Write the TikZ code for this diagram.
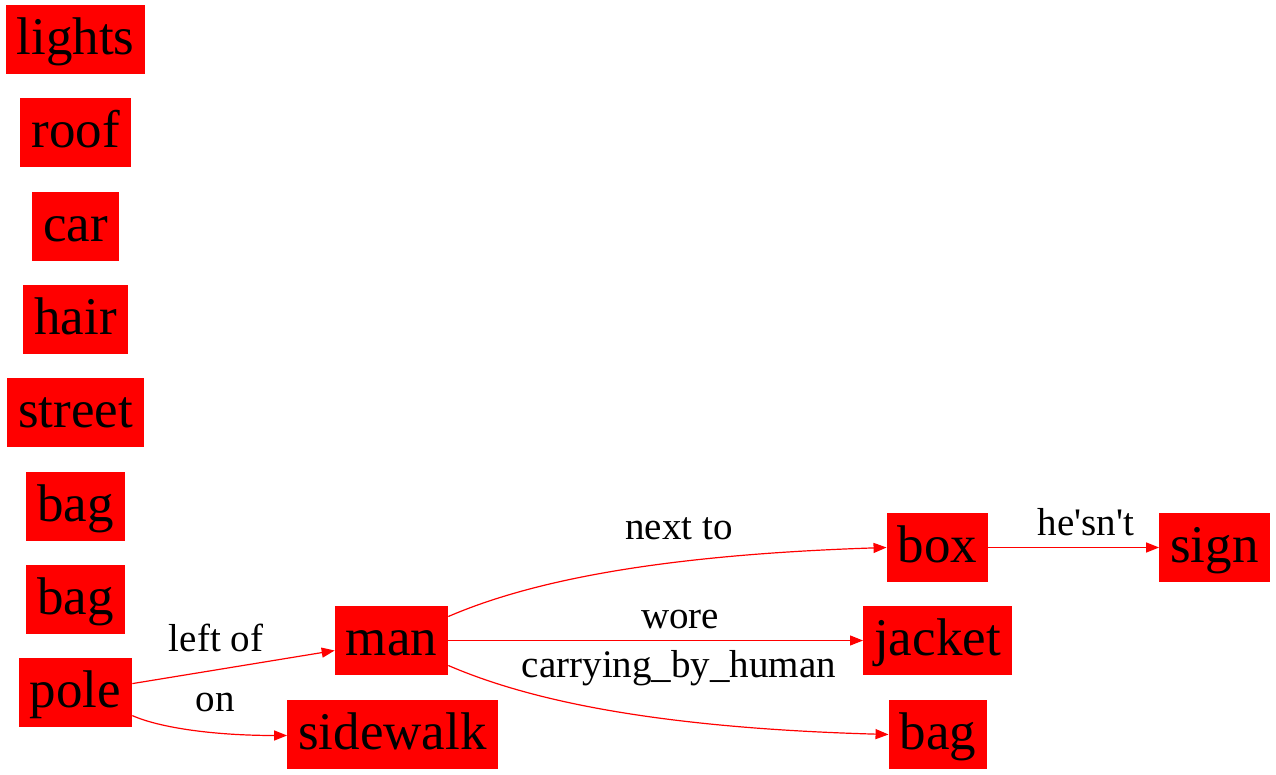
\documentclass[tikz,border=0pt]{standalone}
\usepackage{fontspec}
\setmainfont{Liberation Serif}
\usetikzlibrary{arrows.meta}

\begin{document}
\begin{tikzpicture}[x=1pt,y=-1pt]
	\tikzset{obj/.style={fill=red,inner xsep=11pt,inner ysep=0pt,minimum height=69pt,text height=40pt,text depth=10pt,font=\fontsize{53}{60}\selectfont}}
	\tikzset{rel/.style={red,line width=1.2pt,-{Triangle[length=13pt,width=10pt]}}}
	\tikzset{lbl/.style={anchor=base,inner sep=0pt,text=black,font=\fontsize{39}{45}\selectfont}}
	\useasboundingbox (0,0) rectangle (1276,775);
	% left column of objects
	\foreach \name/\txt [count=\i from 0] in {lights/lights,roof/roof,car/car,hair/hair,street/street,bagA/bag,bagB/bag,pole/pole}
		\node[obj] (\name) at (75.5,39.5+93.3*\i) {\txt};
	\node[obj] (man) at (391.5,640.5) {man};
	\node[obj] (sidewalk) at (392.5,734.5) {sidewalk};
	\node[obj] (box) at (937.5,547.5) {box};
	\node[obj] (jacket) at (937.5,640.5) {jacket};
	\node[obj] (bagC) at (938,734.5) {bag};
	\node[obj] (sign) at (1214.5,547.5) {sign};
	% relations
	\draw[rel] ([yshift=9pt]pole.east) -- ([yshift=-10pt]man.west);
	\draw[rel] ([yshift=-23pt]pole.east) .. controls +(27,12) and +(-74,0) .. ([yshift=-1pt]sidewalk.west);
	\draw[rel] ([yshift=24pt]man.east) .. controls +(72,-31) and +(-246,8) .. (box.west);
	\draw[rel] (man.east) -- (jacket.west);
	\draw[rel] ([yshift=-25pt]man.east) .. controls +(72,31) and +(-248,-7) .. (bagC.west);
	\draw[rel] (box.east) -- (sign.west);
	% relation labels
	\node[lbl] (leftof) at (216,651) {left of};
	\node[lbl] (on) at (215,711) {on};
	\node[lbl] (nextto) at (679,539) {next to};
	\node[lbl] (wore) at (680,628) {wore};
	\node[lbl] (carrying) at (679,677) {carrying\_by\_human};
	\node[lbl] (hesnt) at (1086,535) {he\textquotesingle sn\textquotesingle t};
\end{tikzpicture}
\end{document}
